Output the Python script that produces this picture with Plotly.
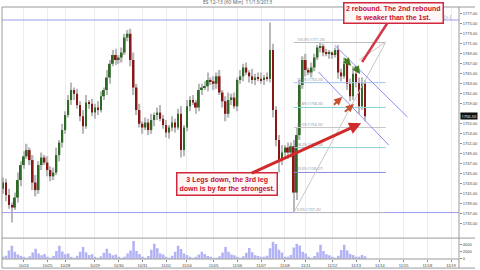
import plotly.graph_objects as go

# ---------------- data (ES 12-13, 60 min bars) ----------------
closes = [
    1743.25, 1740.75, 1738.75, 1738.25, 1740.25, 1743.75, 1746.75, 1748.50,
    1749.75, 1747.75, 1743.25, 1741.75, 1746.75, 1748.25, 1747.25, 1745.75,
    1744.50, 1745.25, 1748.75, 1751.25, 1753.75, 1756.75, 1759.75, 1761.75,
    1761.00, 1758.75, 1756.50, 1754.50, 1759.25, 1759.00, 1757.25, 1758.25,
    1757.75, 1760.50, 1761.75, 1764.25, 1767.00, 1768.75, 1767.75, 1768.25,
    1769.25, 1772.25, 1773.00, 1767.75, 1762.25, 1757.75, 1755.00, 1754.25,
    1755.25, 1753.75, 1755.75, 1756.75, 1757.25, 1756.00, 1754.75, 1753.25,
    1754.25, 1755.25, 1754.25, 1757.00, 1749.75, 1754.25, 1758.50, 1759.75,
    1759.25, 1758.25, 1761.75, 1762.25, 1762.50, 1763.75, 1763.50, 1763.00,
    1764.50, 1761.25, 1759.50, 1757.00, 1759.75, 1760.25, 1758.50, 1763.75,
    1764.50, 1766.25, 1765.25, 1764.50, 1763.75, 1764.25, 1764.00, 1763.75,
    1764.25, 1764.00, 1769.75, 1757.75, 1751.75, 1747.75, 1749.25, 1750.25,
    1749.25, 1750.50, 1741.25, 1752.75, 1762.75, 1767.75, 1765.75, 1765.25,
    1766.25, 1768.25, 1770.25, 1770.50, 1769.25, 1769.00, 1769.25, 1768.75,
    1769.75, 1765.25, 1764.50, 1767.00, 1763.00, 1760.50, 1765.00, 1763.25,
    1758.50, 1763.00, 1756.50,
]
opens = [
    1742.00, 1743.25, 1740.75, 1738.75, 1738.25, 1740.25, 1743.75, 1746.75,
    1748.50, 1749.75, 1747.75, 1743.25, 1741.75, 1746.75, 1748.25, 1747.25,
    1745.75, 1744.50, 1745.25, 1748.75, 1751.25, 1753.75, 1756.75, 1759.75,
    1761.75, 1761.00, 1758.75, 1756.50, 1754.50, 1759.25, 1759.00, 1757.25,
    1758.25, 1757.75, 1760.50, 1761.75, 1764.25, 1767.00, 1768.75, 1767.75,
    1768.25, 1769.25, 1772.25, 1773.00, 1767.75, 1762.25, 1757.75, 1755.00,
    1754.25, 1755.25, 1753.75, 1755.75, 1756.75, 1757.25, 1756.00, 1754.75,
    1753.25, 1754.25, 1755.25, 1754.25, 1757.00, 1749.75, 1754.25, 1758.50,
    1759.75, 1759.25, 1758.25, 1761.75, 1762.25, 1762.50, 1763.75, 1763.50,
    1763.00, 1764.50, 1761.25, 1759.50, 1757.00, 1759.75, 1760.25, 1758.50,
    1763.75, 1764.50, 1766.25, 1765.25, 1764.50, 1763.75, 1764.25, 1764.00,
    1763.75, 1764.25, 1764.00, 1769.75, 1757.75, 1751.75, 1747.75, 1749.25,
    1750.25, 1749.25, 1750.50, 1741.25, 1752.75, 1762.75, 1767.75, 1765.75,
    1765.25, 1766.25, 1768.25, 1770.25, 1770.50, 1769.25, 1769.00, 1769.25,
    1768.75, 1769.75, 1765.25, 1764.50, 1767.00, 1763.00, 1760.50, 1765.00,
    1763.25, 1758.50, 1763.00,
]
upper_wick = [
    1.0, 0.75, 1.25, 0.5, 1.0, 1.5, 0.75, 1.0,
    1.25, 0.5, 1.0, 1.5, 0.75, 1.0, 0.5, 1.25,
    0.75, 1.0, 1.5, 0.5, 1.25, 0.75, 1.0, 1.5,
    0.5, 1.0, 0.75, 1.25, 1.5, 0.5, 1.0, 0.75,
    1.25, 1.0, 0.5, 1.5, 0.75, 1.0, 1.25, 0.5,
    1.0, 0.75, 0.75, 1.0, 1.5, 0.75, 1.25, 0.5,
    1.0, 0.75, 1.25, 0.5, 1.0, 1.5, 0.75, 1.0,
    0.5, 1.25, 0.75, 1.0, 1.5, 0.5, 1.25, 0.75,
    1.0, 0.5, 1.25, 0.75, 1.0, 1.5, 0.5, 1.0,
    0.75, 1.25, 0.5, 1.0, 1.5, 0.75, 1.0, 0.5,
    1.25, 0.75, 1.0, 0.5, 1.5, 0.75, 1.0, 1.25,
    0.5, 1.0, 5.5, 1.25, 0.75, 1.0, 1.5, 0.5,
    1.0, 0.75, 1.25, 1.5, 1.0, 0.75, 1.25, 0.5,
    1.0, 0.75, 0.5, 0.75, 0.5, 0.75, 0.5, 0.25,
    0.5, 1.0, 0.75, 1.25, 0.5, 1.0, 1.5, 0.75,
    1.0, 1.25, 0.75,
]
lower_wick = [
    1.0, 1.25, 0.75, 3.0, 0.5, 1.0, 1.25, 0.75,
    0.5, 1.0, 1.5, 1.25, 0.75, 1.0, 0.5, 1.25,
    1.0, 0.75, 0.5, 1.25, 1.0, 0.75, 0.5, 1.0,
    1.25, 0.75, 1.0, 1.5, 0.5, 1.0, 0.75, 1.25,
    1.0, 0.5, 0.75, 1.0, 1.25, 0.5, 1.0, 0.75,
    1.0, 0.5, 0.75, 1.25, 1.5, 1.0, 0.75, 1.25,
    0.5, 1.0, 0.75, 1.25, 1.0, 0.5, 0.75, 1.0,
    1.25, 0.75, 1.0, 0.5, 1.5, 1.25, 0.75, 1.0,
    0.5, 1.25, 0.75, 1.0, 0.5, 1.0, 0.75, 1.25,
    1.0, 0.5, 1.25, 1.5, 0.75, 1.0, 0.5, 1.0,
    0.75, 1.0, 0.5, 1.25, 0.75, 1.0, 0.5, 0.75,
    1.0, 0.5, 0.75, 1.5, 1.25, 2.5, 1.0, 0.75,
    1.25, 1.0, 4.0, 1.5, 1.0, 0.75, 1.25, 0.5,
    1.0, 0.75, 0.5, 1.0, 0.75, 0.5, 1.0, 0.75,
    0.5, 1.25, 1.0, 0.5, 1.25, 1.0, 0.75, 1.0,
    1.5, 0.75, 1.0,
]
volume = [
    300, 900, 2400, 3700, 2000, 1200, 900, 300,
    200, 700, 1800, 2900, 1500, 1000, 1400, 300,
    200, 800, 2200, 3700, 2100, 1300, 1500, 300,
    200, 900, 2000, 3400, 1900, 1100, 1300, 300,
    200, 700, 1700, 2900, 1600, 1000, 1200, 300,
    200, 600, 1500, 2400, 5100, 2200, 1400, 300,
    200, 800, 2600, 4300, 3000, 1500, 1200, 300,
    200, 900, 2000, 3700, 2800, 1500, 1100, 300,
    200, 500, 1200, 2000, 1400, 800, 600, 200,
    200, 700, 1800, 3400, 2000, 1200, 1000, 300,
    200, 700, 1700, 3100, 1900, 1000, 800, 300,
    300, 900, 3000, 4900, 4200, 2600, 1800, 400,
    300, 1100, 3200, 4300, 3800, 2000, 1500, 300,
    200, 800, 1900, 4000, 2200, 1300, 1000, 300,
    200, 900, 2500, 4000, 2400, 1400, 1100, 300,
    300, 1100, 700,
]
date_ticks = [7, 15, 21, 31, 39, 47, 55, 62, 71, 79, 87, 95, 102, 111, 119, 127, 135, 143, 151]
date_labels = ["10/24", "10/25", "10/28", "10/29", "10/30", "10/31", "11/01", "11/04", "11/05",
               "11/06", "11/07", "11/08", "11/11", "11/12", "11/13", "11/14", "11/15", "11/18", "11/19"]
price_ticks = list(range(1735, 1779, 2))
volume_ticks = [0, 2000, 4000]

# drawing tools (bar index, price)
resistance = 1775.75
support = 1737.25
fib_low, fib_high = 1737.25, 1771.25
fib_x = [98, 129]
fib_levels = [0.0, 0.236, 0.382, 0.5, 0.618, 0.764, 1.0]
fib_colors = ["#b8b8b8", "#8a8ad6", "#8ccfcf", "#c6c6c6", "#86d4d4", "#a4c4ea", "#bdbdbd"]
channel_upper = [(111.7, 1770.75), (136.3, 1756.35)]
channel_lower = [(106.3, 1765.35), (130.0, 1750.75)]
fib_diag = [(98, 1737.25), (129, 1771.35)]
fib_diag2 = [(120, 1767.75), (129, 1771.35)]

idx = list(range(len(closes)))
highs = [max(o, c) + w for o, c, w in zip(opens, closes, upper_wick)]
lows = [min(o, c) - w for o, c, w in zip(opens, closes, lower_wick)]
range_h = [h - l for h, l in zip(highs, lows)]
body_lo = [min(o, c) for o, c in zip(opens, closes)]
body_h = [max(abs(c - o), 0.2) for o, c in zip(opens, closes)]
body_col = ["#2c6a26" if c >= o else "#861818" for o, c in zip(opens, closes)]

fig = go.Figure()
# high-low range (grey wick), then the open-close body on top
fig.add_trace(go.Bar(x=idx, y=range_h, base=lows, width=0.5,
                     marker=dict(color="#b9b9b9", line=dict(width=0)),
                     hoverinfo="skip", showlegend=False, xaxis="x", yaxis="y"))
fig.add_trace(go.Bar(x=idx, y=body_h, base=body_lo, width=0.6,
                     marker=dict(color=body_col, line=dict(width=0)),
                     hoverinfo="skip", showlegend=False, xaxis="x", yaxis="y"))
fig.add_trace(go.Bar(x=idx, y=volume, marker=dict(color="#b2b2f6", line=dict(width=0)),
                     width=0.85, hoverinfo="skip", showlegend=False, xaxis="x", yaxis="y2"))

shapes = []
for lvl in (resistance, support):
    shapes.append(dict(type="line", xref="paper", yref="y", x0=0, x1=1, y0=lvl, y1=lvl,
                       line=dict(color="#9c9cf0", width=1)))
annotations = []
rng = fib_high - fib_low
for lv, col in zip(fib_levels, fib_colors):
    p = fib_low + lv * rng
    shapes.append(dict(type="line", xref="x", yref="y", x0=fib_x[0], x1=fib_x[1], y0=p, y1=p,
                       line=dict(color=col, width=1)))
    annotations.append(dict(x=fib_x[0] + 0.3, y=p, xref="x", yref="y", xanchor="left", yanchor="bottom",
                            text=f"{lv*100:.1f}% ({p:.2f})", showarrow=False,
                            font=dict(size=3.5, color="#8a8a8a"), yshift=-1))
for (a, b), col in ((channel_upper, "#8e8ef0"), (channel_lower, "#8e8ef0"),
                    (fib_diag, "#c8c8c8"), (fib_diag2, "#c8c8c8")):
    shapes.append(dict(type="line", xref="x", yref="y", x0=a[0], y0=a[1], x1=b[0], y1=b[1],
                       line=dict(color=col, width=1)))

frame = "#9a9a9a"
shapes += [
    dict(type="line", xref="paper", yref="paper", x0=0, x1=1.035, y0=1, y1=1, line=dict(color=frame, width=1)),
    dict(type="line", xref="paper", yref="paper", x0=0, x1=0, y0=-0.036, y1=1, line=dict(color=frame, width=1)),
    dict(type="line", xref="paper", yref="paper", x0=1, x1=1, y0=-0.036, y1=1, line=dict(color=frame, width=1)),
    dict(type="line", xref="paper", yref="paper", x0=0, x1=1.035, y0=0.083, y1=0.083, line=dict(color=frame, width=1)),
    dict(type="line", xref="paper", yref="paper", x0=0, x1=1, y0=0, y1=0, line=dict(color=frame, width=1)),
    dict(type="line", xref="paper", yref="paper", x0=0, x1=1.035, y0=-0.036, y1=-0.036, line=dict(color=frame, width=1)),
]

red = "#c8102e"
callout_font = dict(family="Liberation Sans, Arial", size=7, color=red)
annotations += [
    dict(x=121.0, y=1767.35, ax=131.7, ay=1777.1, xref="x", yref="y", axref="x", ayref="y",
         text="<b>2 rebound. The 2nd rebound<br>is weaker than the 1st.</b>", showarrow=True,
         arrowhead=0, arrowwidth=2.5, arrowcolor="#d23a4a", font=callout_font,
         bgcolor="#fff6f6", bordercolor="#d0283c", borderwidth=1.5, borderpad=1.5),
    dict(x=120.7, y=1755.1, ax=75.5, ay=1742.9, xref="x", yref="y", axref="x", ayref="y",
         text="<b>3 Legs down, the 3rd leg<br>down is by far the strongest.</b>", showarrow=True,
         arrowhead=2, arrowsize=0.8, arrowwidth=3, arrowcolor="#d02a2a", font=callout_font,
         bgcolor="#fff6f6", bordercolor="#d0283c", borderwidth=1.5, borderpad=2),
]
small_arrows = [
    ((111.0, 1758.55), (114.3, 1760.35), "#c9502c"),
    ((114.7, 1757.15), (118.3, 1758.95), "#c9502c"),
    ((114.7, 1768.35), (117.3, 1766.55), "#3f7a1e"),
    ((118.3, 1766.75), (120.3, 1764.95), "#3f7a1e"),
]
for tail, tip, col in small_arrows:
    annotations.append(dict(x=tip[0], y=tip[1], ax=tail[0], ay=tail[1], xref="x", yref="y",
                            axref="x", ayref="y", text="", showarrow=True, arrowhead=2,
                            arrowsize=0.8, arrowwidth=2, arrowcolor=col))
annotations += [
    dict(x=0.515, y=1.0, xref="paper", yref="paper", yanchor="bottom",
         text="ES 12-13 (60 Min)  11/13/2013", showarrow=False, font=dict(size=5, color="#555555")),
    dict(x=1.0, y=closes[-1], xref="paper", yref="y", xanchor="left", text=f"{closes[-1]:.2f}",
         showarrow=False, bgcolor="#111111", font=dict(size=4, color="white"), borderpad=0.5, xshift=1),
    dict(x=0.99, y=0.985, xref="paper", yref="paper", xanchor="right", yanchor="top", text="▷|",
         showarrow=False, font=dict(size=6, color="#888888")),
]

# the last-price marker covers the nearest price tick label, as in the original
price_text = ["" if abs(v - closes[-1]) < 1.0 else f"{v:.2f}" for v in price_ticks]

tickfont = dict(family="Liberation Sans, Arial", size=4, color="#444444")
fig.update_layout(
    width=480, height=270, margin=dict(l=2, r=16, t=7, b=11),
    paper_bgcolor="white", plot_bgcolor="white", barmode="overlay",
    showlegend=False, shapes=shapes, annotations=annotations,
    xaxis=dict(domain=[0, 1], range=[-1 / 3, 153.67], anchor="y2", tickvals=date_ticks,
               ticktext=date_labels, tickfont=tickfont, ticks="outside", ticklen=2, tickcolor="#888",
               showgrid=True, gridcolor="#ededed", gridwidth=1, zeroline=False, showline=False),
    yaxis=dict(domain=[0.083, 1], range=[1732.15, 1778.35], side="right", anchor="x",
               tickvals=price_ticks, ticktext=price_text, tickfont=tickfont,
               ticks="outside", ticklen=2, tickcolor="#888", showgrid=False, zeroline=False),
    yaxis2=dict(domain=[0, 0.08], range=[-60, 5700], side="right", anchor="x",
                tickvals=volume_ticks, ticktext=[str(v) for v in volume_ticks], tickfont=tickfont,
                ticks="outside", ticklen=2, tickcolor="#888", showgrid=False, zeroline=False),
)
fig.write_html("out.html")
